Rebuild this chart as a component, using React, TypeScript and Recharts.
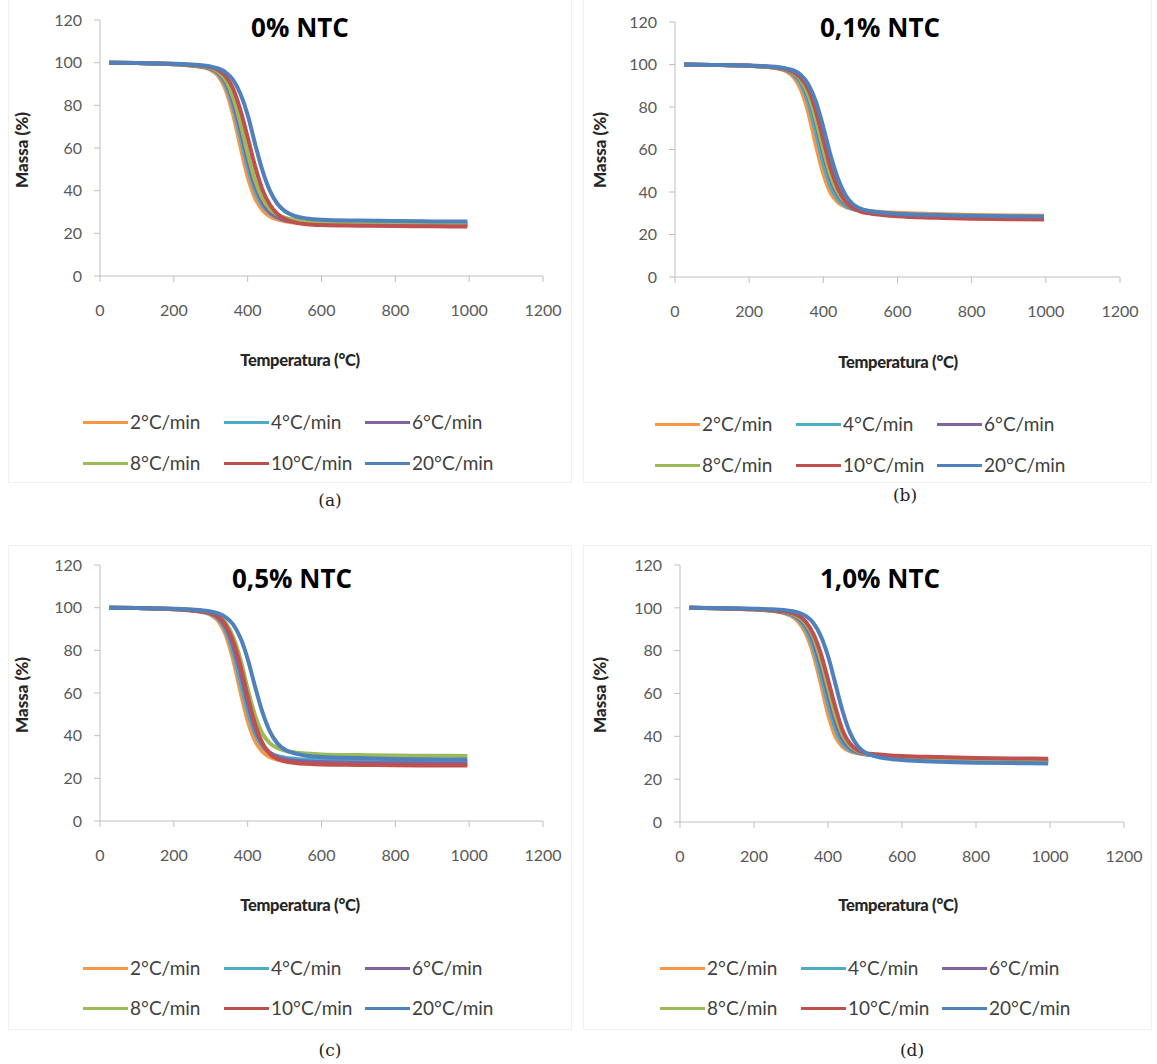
import React from "react";
import { LineChart, Line, XAxis, YAxis } from "recharts";

const temps = [25, 100, 200, 250, 280, 300, 320, 340, 360, 380, 400, 420, 440, 460, 480, 500, 530, 560, 600, 700, 800, 900, 995];

const seriesNames = ["2°C/min", "4°C/min", "6°C/min", "8°C/min", "10°C/min", "20°C/min"];
const seriesColors = ["#F79646", "#4BACC6", "#8064A2", "#9BBB59", "#C0504D", "#4F81BD"];

const xTicks = [0, 200, 400, 600, 800, 1000, 1200];
const yTicks = [0, 20, 40, 60, 80, 100, 120];

const panelTitles = ["0% NTC", "0,1% NTC", "0,5% NTC", "1,0% NTC"];
const panelCaptions = ["(a)", "(b)", "(c)", "(d)"];

// 0% NTC
const a2 = [100, 99.8, 99.3, 98.6, 97.8, 96.6, 93.8, 87.5, 76, 61, 46.5, 36.5, 31, 28, 26.5, 25.7, 25, 24.7, 24.5, 24.3, 24.1, 24, 24];
const a4 = [100, 99.8, 99.3, 98.7, 98, 97, 94.8, 89.5, 79.5, 65.5, 51, 40, 33, 29.5, 27.5, 26.4, 25.6, 25.2, 25, 24.8, 24.6, 24.5, 24.5];
const a6 = [100, 99.8, 99.3, 98.7, 98.1, 97.3, 95.4, 91, 82, 69, 54.5, 42.5, 34.5, 30, 27.6, 26.2, 25.3, 24.9, 24.6, 24.3, 24.2, 24.1, 24];
const a8 = [100, 99.8, 99.4, 98.8, 98.2, 97.5, 95.8, 92, 84, 72, 57.5, 45, 36.5, 31.5, 28.8, 27.3, 26.3, 25.8, 25.5, 25.3, 25.1, 25, 25];
const a10 = [100, 99.8, 99.4, 98.9, 98.4, 97.8, 96.6, 93.8, 88, 78, 65, 51.5, 40.5, 33.5, 29.2, 26.8, 25, 24.3, 23.9, 23.6, 23.4, 23.3, 23.2];
const a20 = [100, 99.9, 99.5, 99.1, 98.7, 98.2, 97.3, 95.5, 92, 85.5, 75.5, 62, 49.5, 40, 34, 30.5, 28, 27, 26.4, 26, 25.8, 25.6, 25.5];

// 0,1% NTC
const b2 = [100, 99.8, 99.4, 98.8, 98, 96.8, 94, 88, 77, 62, 48.5, 39.5, 35, 33, 32, 31.5, 31, 30.6, 30.2, 29.6, 29.2, 29, 28.8];
const b4 = [100, 99.8, 99.4, 98.9, 98.2, 97.3, 95.2, 90.5, 81.5, 68, 53.5, 42.5, 36.5, 33.5, 32, 31.3, 30.7, 30.2, 29.7, 29.1, 28.6, 28.4, 28.2];
const b6 = [100, 99.8, 99.4, 98.9, 98.3, 97.5, 95.8, 92, 84.5, 72.5, 58, 46, 38.5, 34.5, 32.4, 31.3, 30.5, 30, 29.5, 28.9, 28.4, 28.2, 28];
const b8 = [100, 99.8, 99.4, 98.9, 98.3, 97.6, 96, 92.5, 85.5, 74, 60, 47.5, 39.5, 35, 32.6, 31.4, 30.5, 30, 29.4, 28.7, 28.2, 28, 27.8];
const b10 = [100, 99.8, 99.4, 99, 98.5, 97.8, 96.5, 93.5, 88, 78, 64.5, 51, 41.5, 35.5, 32.4, 30.8, 29.8, 29.2, 28.6, 27.9, 27.4, 27.2, 27];
const b20 = [100, 99.8, 99.5, 99.1, 98.7, 98.1, 97.2, 95, 90.5, 82.5, 70.5, 57, 46, 38.5, 34.3, 32.2, 30.9, 30.2, 29.7, 29.2, 28.8, 28.6, 28.5];

// 0,5% NTC
const c2 = [100, 99.8, 99.3, 98.6, 97.8, 96.6, 93.8, 87.5, 76, 61, 47, 37.5, 32.5, 30, 28.8, 28.1, 27.5, 27.2, 27, 26.8, 26.6, 26.5, 26.5];
const c4 = [100, 99.8, 99.3, 98.7, 98, 97, 94.8, 89.5, 79.5, 65.5, 51.5, 41, 35, 32, 30.5, 29.7, 29.1, 28.8, 28.5, 28.3, 28.1, 28, 28];
const c6 = [100, 99.8, 99.3, 98.7, 98.1, 97.3, 95.4, 91, 82.5, 70, 55.5, 43.5, 36, 32, 30, 29, 28.3, 27.9, 27.6, 27.3, 27.1, 27, 27];
const c8 = [100, 99.8, 99.4, 98.9, 98.3, 97.6, 96.2, 93, 86.5, 76, 62, 49.5, 41, 36.5, 34.2, 33, 32.1, 31.6, 31.2, 30.9, 30.7, 30.6, 30.5];
const c10 = [100, 99.8, 99.4, 98.8, 98.2, 97.5, 95.8, 92, 84.5, 73, 58.5, 45.5, 36.5, 31.5, 29.2, 28, 27.2, 26.8, 26.5, 26.3, 26.1, 26, 26];
const c20 = [100, 99.9, 99.5, 99.1, 98.7, 98.2, 97.3, 95.6, 92.3, 86, 76, 63, 51, 42, 36.5, 33.5, 31.6, 30.6, 30, 29.5, 29.1, 28.9, 28.8];

// 1,0% NTC
const d2 = [100, 99.8, 99.2, 98.5, 97.6, 96.3, 93.5, 88, 78.5, 65, 50.5, 40, 35, 33, 32.2, 31.7, 31.2, 30.8, 30.4, 29.8, 29.4, 29.2, 29];
const d4 = [100, 99.8, 99.3, 98.6, 97.8, 96.7, 94.5, 90, 81.5, 69, 55, 43.5, 36.5, 33.5, 32.3, 31.6, 31, 30.5, 30, 29.3, 28.9, 28.7, 28.5];
const d6 = [100, 99.8, 99.3, 98.7, 98, 97.1, 95.3, 91.5, 84.5, 73, 59.5, 47, 38.5, 34.5, 32.6, 31.7, 31, 30.5, 30, 29.3, 28.9, 28.7, 28.5];
const d8 = [100, 99.8, 99.3, 98.8, 98.2, 97.4, 95.8, 92.5, 86.5, 76, 63, 50, 40.5, 35.5, 33, 32, 31.3, 30.9, 30.5, 29.8, 29.4, 29.2, 29];
const d10 = [100, 99.8, 99.4, 98.9, 98.4, 97.7, 96.4, 93.5, 88, 79, 66.5, 53.5, 42.5, 36.5, 33.5, 32.3, 31.6, 31.2, 30.8, 30.3, 29.9, 29.7, 29.5];
const d20 = [100, 99.9, 99.6, 99.3, 99, 98.5, 97.8, 96.2, 93, 87, 77.5, 64.5, 51.5, 41.5, 35.5, 32.5, 30.6, 29.6, 28.9, 28.1, 27.7, 27.5, 27.3];

const panelSeries = [
  [a2, a4, a6, a8, a10, a20],
  [b2, b4, b6, b8, b10, b20],
  [c2, c4, c6, c8, c10, c20],
  [d2, d4, d6, d8, d10, d20],
];

function buildRows(series: number[][]) {
  return temps.map((t, i) => {
    const row: Record<string, number> = { t };
    series.forEach((s, k) => {
      row["s" + k] = s[i];
    });
    return row;
  });
}

type Layout = {
  left: number; top: number;
  plotLeft: number; plotRight: number; plotTop: number; plotBottom: number;
  titleX: number; titleY: number;
  xTitleX: number; xTitleY: number;
  yTitleX: number; yTitleY: number;
  legendX: number; legendY1: number; legendY2: number;
  capX: number; capY: number;
  frame: [number, number, number, number];
};

const layouts: Layout[] = [
  { left: 0, top: 0, plotLeft: 100, plotRight: 543, plotTop: 20, plotBottom: 276, titleX: 300, titleY: 27, xTitleX: 300, xTitleY: 360, yTitleX: 22, yTitleY: 150, legendX: 83, legendY1: 422, legendY2: 463, capX: 330, capY: 500, frame: [8, -2, 572, 483] },
  { left: 580, top: 0, plotLeft: 675, plotRight: 1120, plotTop: 22, plotBottom: 277, titleX: 880, titleY: 27, xTitleX: 898, xTitleY: 362, yTitleX: 600, yTitleY: 150, legendX: 655, legendY1: 424, legendY2: 465, capX: 905, capY: 495, frame: [583, -2, 1152, 483] },
  { left: 0, top: 540, plotLeft: 100, plotRight: 543, plotTop: 565, plotBottom: 821, titleX: 292, titleY: 578, xTitleX: 300, xTitleY: 905, yTitleX: 22, yTitleY: 695, legendX: 83, legendY1: 968, legendY2: 1008, capX: 330, capY: 1050, frame: [8, 545, 572, 1030] },
  { left: 580, top: 540, plotLeft: 680, plotRight: 1124, plotTop: 565, plotBottom: 822, titleX: 880, titleY: 578, xTitleX: 898, xTitleY: 905, yTitleX: 600, yTitleY: 695, legendX: 660, legendY1: 968, legendY2: 1008, capX: 912, capY: 1050, frame: [583, 545, 1152, 1030] },
];

const tickFont = { fontFamily: "Lato, 'Open Sans', sans-serif", fontSize: 16, fill: "#595959" };
const axisGray = "#bfbfbf";

function Panel({ idx }: { idx: number }) {
  const L = layouts[idx];
  const W = 575;
  const H = 330;
  const yAxisW = 50;
  const xAxisH = 40;
  const mLeft = L.plotLeft - L.left - yAxisW;
  const mTop = L.plotTop - L.top;
  const mRight = L.left + W - L.plotRight;
  const mBottom = L.top + H - L.plotBottom - xAxisH;
  const data = buildRows(panelSeries[idx]);
  const legendItems = seriesNames.map((n, k) => ({ n, c: seriesColors[k], k }));
  return (
    <>
      <div
        style={{
          position: "absolute",
          left: L.frame[0],
          top: L.frame[1],
          width: L.frame[2] - L.frame[0],
          height: L.frame[3] - L.frame[1],
          border: "1px solid #f0f0f0",
          boxSizing: "border-box",
        }}
      />
      <div style={{ position: "absolute", left: L.left, top: L.top }}>
        <LineChart width={W} height={H} data={data} margin={{ left: mLeft, top: mTop, right: mRight, bottom: mBottom }}>
          <XAxis
            dataKey="t"
            type="number"
            domain={[0, 1200]}
            ticks={xTicks}
            height={xAxisH}
            stroke={axisGray}
            tickSize={6}
            tickMargin={23}
            tick={tickFont}
            interval={0}
          />
          <YAxis
            type="number"
            domain={[0, 120]}
            ticks={yTicks}
            width={yAxisW}
            stroke={axisGray}
            tickSize={6}
            tickMargin={12}
            tick={tickFont}
            interval={0}
          />
          {seriesNames.map((n, k) => (
            <Line
              key={n}
              type="monotone"
              dataKey={"s" + k}
              name={n}
              stroke={seriesColors[k]}
              strokeWidth={4}
              dot={false}
              isAnimationActive={false}
            />
          ))}
        </LineChart>
      </div>
      <div
        style={{
          position: "absolute",
          left: L.titleX - 150,
          top: L.titleY - 17,
          width: 300,
          textAlign: "center",
          fontFamily: "'Open Sans', sans-serif",
          fontWeight: 700,
          fontSize: 26,
          lineHeight: "34px",
          color: "#000",
        }}
      >
        {panelTitles[idx]}
      </div>
      <div
        style={{
          position: "absolute",
          left: L.xTitleX - 150,
          top: L.xTitleY - 12,
          width: 300,
          textAlign: "center",
          fontFamily: "Lato, sans-serif",
          fontWeight: 900,
          fontSize: 16.5,
          letterSpacing: -0.3,
          lineHeight: "24px",
          color: "#262626",
        }}
      >
        Temperatura (°C)
      </div>
      <div
        style={{
          position: "absolute",
          left: L.yTitleX - 100,
          top: L.yTitleY - 12,
          width: 200,
          textAlign: "center",
          transform: "rotate(-90deg)",
          fontFamily: "Lato, sans-serif",
          fontWeight: 900,
          fontSize: 17,
          lineHeight: "24px",
          color: "#262626",
        }}
      >
        Massa (%)
      </div>
      {legendItems.map((it) => {
        const col = it.k % 3;
        const row = Math.floor(it.k / 3);
        const x = L.legendX + col * 141;
        const y = row === 0 ? L.legendY1 : L.legendY2;
        return (
          <div
            key={it.n}
            style={{ position: "absolute", left: x, top: y - 12, height: 24, display: "flex", alignItems: "center" }}
          >
            <div style={{ width: 45, height: 3, background: it.c }} />
            <span
              style={{
                marginLeft: 2,
                fontFamily: "Lato, sans-serif",
                fontSize: 19,
                lineHeight: "24px",
                color: "#404040",
                whiteSpace: "nowrap",
              }}
            >
              {it.n}
            </span>
          </div>
        );
      })}
      <div
        style={{
          position: "absolute",
          left: L.capX - 30,
          top: L.capY - 12,
          width: 60,
          textAlign: "center",
          fontFamily: "'DejaVu Serif', 'Liberation Serif', serif",
          fontSize: 17,
          lineHeight: "24px",
          color: "#222",
        }}
      >
        {panelCaptions[idx]}
      </div>
    </>
  );
}

export default function App() {
  return (
    <div style={{ position: "absolute", left: 0, top: 0, width: 1157, height: 1064, background: "#fff", overflow: "hidden" }}>
      {[0, 1, 2, 3].map((i) => (
        <Panel key={i} idx={i} />
      ))}
    </div>
  );
}
